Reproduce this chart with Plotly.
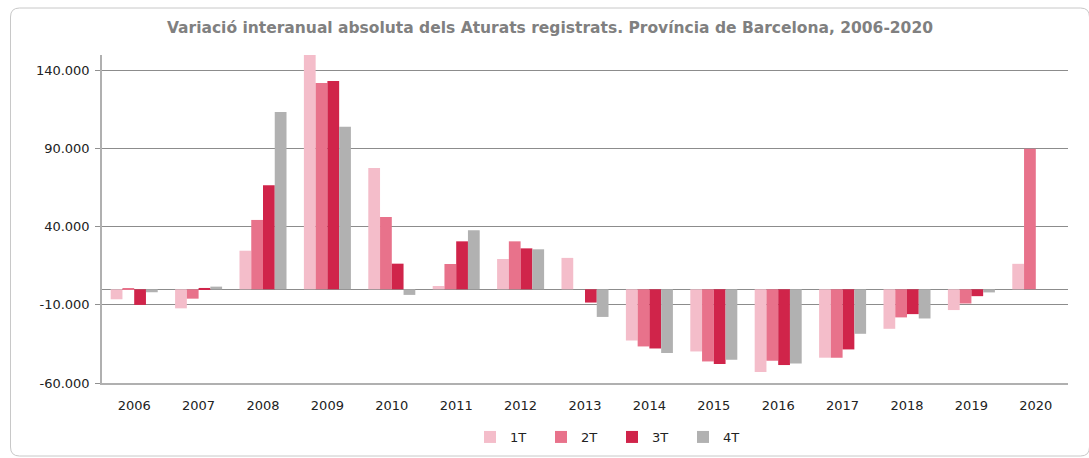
import plotly.graph_objects as go

years = [str(y) for y in range(2006, 2021)]
t1 = [-6400, -12200, 24700, 150000, 77700, 2100, 19400, 20100, -32800, -39800, -53000, -43800, -25300, -13300, 16300]
t2 = [300, -6000, 44400, 132100, 46300, 16200, 30700, None, -36600, -46200, -45800, -43800, -18000, -9100, 89900]
t3 = [-10000, 850, 66600, 133400, 16400, 30700, 26200, -8500, -37900, -47900, -48500, -38500, -15900, -4400, None]
t4 = [-1900, 1700, 113500, 104100, -3600, 37800, 25600, -17700, -40800, -45100, -47500, -28500, -18700, -2000, None]
series = [("1T", t1, "#f4bdca"), ("2T", t2, "#e8728b"), ("3T", t3, "#d0244a"), ("4T", t4, "#b1b1b1")]

ytick_vals = [-60000, -10000, 40000, 90000, 140000]
ytick_text = ["-60.000", "-10.000", "40.000", "90.000", "140.000"]
y_range = [-60000, 150000]

fig = go.Figure()
for name, vals, col in series:
    fig.add_trace(go.Bar(x=years, y=vals, name=name, marker=dict(color=col, line=dict(width=0))))

font = "DejaVu Sans, Verdana, sans-serif"
W, H = 1089, 458
L, R, T, B = 102, 21, 55, 75
pw, ph = W - L - R, H - T - B

def px(x):
    return (x - L) / pw

def py(y):
    return (H - B - y) / ph

bx0, bx1, by0, by1, rad = 10.5, 1089.5, 8, 456, 9
border = (f"M {px(bx0)},{py(by0 + rad)} Q {px(bx0)},{py(by0)} {px(bx0 + rad)},{py(by0)} "
          f"L {px(bx1 - rad)},{py(by0)} Q {px(bx1)},{py(by0)} {px(bx1)},{py(by0 + rad)} "
          f"L {px(bx1)},{py(by1 - rad)} Q {px(bx1)},{py(by1)} {px(bx1 - rad)},{py(by1)} "
          f"L {px(bx0 + rad)},{py(by1)} Q {px(bx0)},{py(by1)} {px(bx0)},{py(by1 - rad)} Z")

fig.update_layout(
    width=W, height=H,
    margin=dict(l=L, r=R, t=T, b=B, autoexpand=False),
    paper_bgcolor="white", plot_bgcolor="white",
    barmode="group", bargap=0.27, bargroupgap=0,
    font=dict(family=font, size=13, color="#222222"),
    title=dict(text="<b>Variació interanual absoluta dels Aturats registrats. Província de Barcelona, 2006-2020</b>",
               x=0.505, xanchor="center", xref="container", y=1 - 28 / H, yanchor="middle", yref="container",
               font=dict(family=font, size=15.5, color="#808080")),
    showlegend=True,
    legend=dict(orientation="h", x=470 / W, xanchor="left", xref="container",
                y=1 - 437 / H, yanchor="middle", yref="container",
                bgcolor="rgba(0,0,0,0)",
                font=dict(size=13, color="#222222"), entrywidth=26, itemwidth=30,
                traceorder="normal"),
    xaxis=dict(type="category", showgrid=False, showline=True, linecolor="#b0b0b0", linewidth=1.5,
               ticks="", tickfont=dict(size=13, color="#222222"), ticklabelstandoff=10),
    xaxis2=dict(overlaying="x", anchor="free", position=(0 - y_range[0]) / (y_range[1] - y_range[0]),
                range=[-0.5, 14.5], showgrid=False, showline=False, ticks="outside", ticklen=4,
                tickcolor="#909090", tickvals=[i + 0.5 for i in range(-1, 15)], showticklabels=False,
                zeroline=False),
    yaxis=dict(range=y_range, tickvals=ytick_vals, ticktext=ytick_text, showgrid=True,
               gridcolor="#8c8c8c", gridwidth=1, showline=True, linecolor="#b0b0b0", linewidth=1.5,
               ticks="outside", ticklen=5, tickcolor="#909090", ticklabelstandoff=3,
               zeroline=True, zerolinecolor="#8c8c8c", zerolinewidth=1,
               tickfont=dict(size=13, color="#222222")),
    shapes=[dict(type="path", xref="paper", yref="paper", layer="below", path=border,
                 line=dict(color="#c8c8c8", width=1))],
)
fig.write_html("out.html")
